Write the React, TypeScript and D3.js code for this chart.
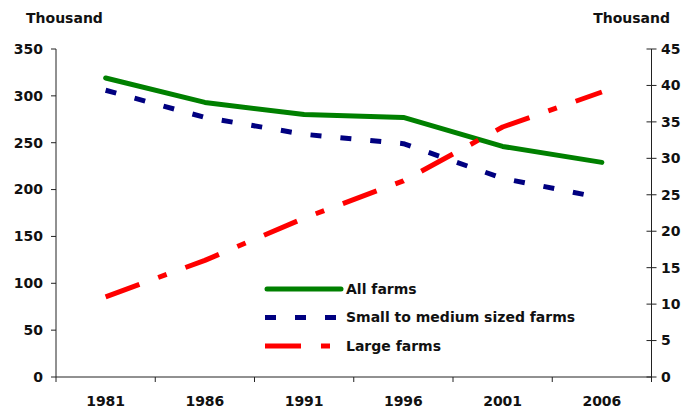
import React from "react";
import * as d3 from "d3";

const years = ["1981", "1986", "1991", "1996", "2001", "2006"];
const allFarms = [319, 293, 280, 277, 246, 229];
const smallMedium = [306, 277, 259, 249, 212, 191];
const largeFarms = [11, 16, 21.8, 26.9, 34.3, 39.1];
const leftTicks = [0, 50, 100, 150, 200, 250, 300, 350];
const rightTicks = [0, 5, 10, 15, 20, 25, 30, 35, 40, 45];
const legendLabels = ["All farms", "Small to medium sized farms", "Large farms"];

const W = 684;
const H = 408;
const left = 56;
const right = 651.5;
const top = 49;
const bottom = 377;
const font = "'DejaVu Sans', sans-serif";

export default function App() {
  const x = d3.scaleBand<string>().domain(years).range([left, right]).padding(0);
  const yL = d3.scaleLinear().domain([0, 350]).range([bottom, top]);
  const yR = d3.scaleLinear().domain([0, 45]).range([bottom, top]);
  const cx = (y: string) => (x(y) as number) + x.bandwidth() / 2;

  const lineL = d3.line<number>().x((_, i) => cx(years[i])).y((d) => yL(d));
  const lineR = d3.line<number>().x((_, i) => cx(years[i])).y((d) => yR(d));

  const series = [
    { label: legendLabels[0], d: lineL(allFarms), color: "#008000", dash: "none", cap: "round" },
    { label: legendLabels[1], d: lineL(smallMedium), color: "#000080", dash: "11 19", cap: "butt" },
    { label: legendLabels[2], d: lineR(largeFarms), color: "#FF0000", dash: "36 20 9 20", cap: "butt" },
  ];

  const edges = years.map((y) => x(y) as number).concat([right]);

  return (
    <svg width={W} height={H} style={{ position: "absolute", left: 0, top: 0 }} fontFamily={font}>
      <rect x={0} y={0} width={W} height={H} fill="#fff" />
      <text x={26} y={23} fontSize={14} fontWeight={700} fill="#111">Thousand</text>
      <text x={670} y={23} fontSize={14} fontWeight={700} fill="#111" textAnchor="end">Thousand</text>

      {/* left axis */}
      <line x1={left} y1={top} x2={left} y2={bottom} stroke="#222" strokeWidth={1} />
      {leftTicks.map((t) => (
        <g key={"l" + t}>
          <line x1={left - 5} x2={left} y1={yL(t)} y2={yL(t)} stroke="#222" />
          <text x={43} y={yL(t)} dy="0.35em" fontSize={14} fontWeight={700} textAnchor="end" fill="#111">{t}</text>
        </g>
      ))}

      {/* right axis */}
      <line x1={right} y1={top} x2={right} y2={bottom} stroke="#222" strokeWidth={1} />
      {rightTicks.map((t) => (
        <g key={"r" + t}>
          <line x1={right - 5} x2={right + 5} y1={yR(t)} y2={yR(t)} stroke="#222" />
          <text x={661} y={yR(t)} dy="0.35em" fontSize={14} fontWeight={700} fill="#111">{t}</text>
        </g>
      ))}

      {/* x axis */}
      <line x1={left} y1={bottom} x2={right} y2={bottom} stroke="#222" />
      {edges.map((e, i) => (
        <line key={"e" + i} x1={e} x2={e} y1={bottom} y2={bottom + 5} stroke="#222" />
      ))}
      {years.map((y) => (
        <text key={y} x={cx(y)} y={406} fontSize={14} fontWeight={700} textAnchor="middle" fill="#111">{y}</text>
      ))}

      {series.map((s) => (
        <path key={s.label} d={s.d || ""} fill="none" stroke={s.color} strokeWidth={5}
          strokeDasharray={s.dash} strokeLinecap={s.cap as any} strokeLinejoin="round" />
      ))}

      {/* legend */}
      {series.map((s, i) => {
        const ly = 289 + i * 28.5;
        return (
          <g key={"lg" + i}>
            <line x1={s.cap === "round" ? 267 : 265} x2={s.cap === "round" ? 341 : 343} y1={ly} y2={ly}
              stroke={s.color} strokeWidth={5} strokeDasharray={s.dash} strokeLinecap={s.cap as any} />
            <text x={346} y={ly} dy="0.35em" fontSize={14} fontWeight={700} fill="#111">{s.label}</text>
          </g>
        );
      })}
    </svg>
  );
}
